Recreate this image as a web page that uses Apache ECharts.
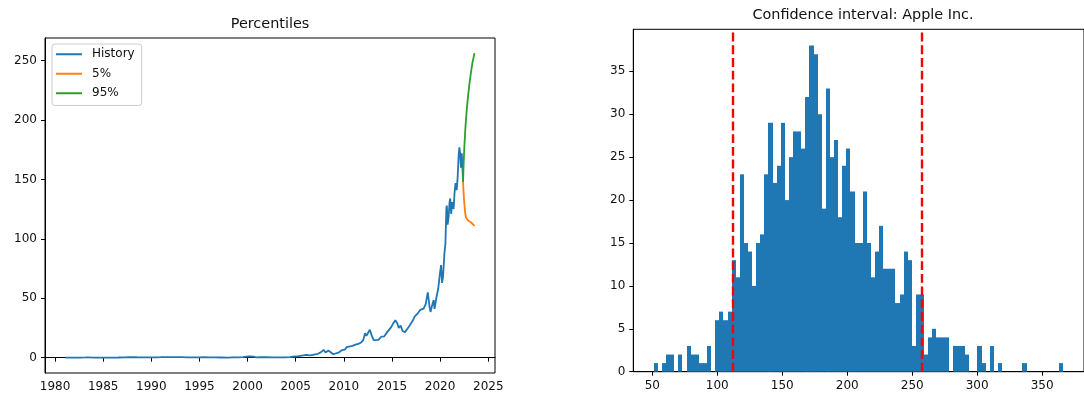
<!DOCTYPE html>
<html>
<head>
<meta charset="utf-8">
<script src="https://cdn.jsdelivr.net/npm/echarts@6/dist/echarts.min.js"></script>
<style>
  html, body { margin: 0; padding: 0; background: #fff; }
  #chart { width: 1084px; height: 394px; }
</style>
</head>
<body>
<div id="chart"></div>
<script>
// left panel: price history (decimal years) and forecast percentiles
const historyDates = [
  1981.08, 1981.5, 1982.0, 1982.6, 1983.2, 1983.5, 1984.0, 1984.6, 1985.3, 1986.0,
  1986.6, 1987.2, 1987.7, 1987.9, 1988.5, 1989.2, 1989.9, 1990.5, 1991.0, 1991.4,
  1992.0, 1992.6, 1993.2, 1993.7, 1994.3, 1995.0, 1995.5, 1996.0, 1996.6, 1997.3,
  1997.9, 1998.5, 1999.0, 1999.5, 1999.9, 2000.2, 2000.6, 2000.9, 2001.4, 2002.0,
  2002.5, 2003.2, 2003.8, 2004.4, 2004.9, 2005.3, 2005.8, 2006.1, 2006.5, 2006.9,
  2007.3, 2007.6, 2007.9, 2008.1, 2008.4, 2008.6, 2008.9, 2009.1, 2009.5, 2009.8,
  2010.1, 2010.3, 2010.5, 2010.9, 2011.2, 2011.5, 2011.8, 2012.0, 2012.2, 2012.35,
  2012.7, 2012.9, 2013.1, 2013.3, 2013.6, 2013.9, 2014.2, 2014.5, 2014.9, 2015.1,
  2015.35, 2015.55, 2015.7, 2015.9, 2016.1, 2016.35, 2016.5, 2016.75, 2016.95, 2017.15,
  2017.35, 2017.5, 2017.7, 2017.9, 2018.1, 2018.3, 2018.5, 2018.72, 2018.9, 2019.0,
  2019.2, 2019.33, 2019.42, 2019.6, 2019.8, 2020.0, 2020.1, 2020.2, 2020.3, 2020.45,
  2020.55, 2020.65, 2020.7, 2020.78, 2020.88, 2020.98, 2021.05, 2021.15, 2021.25, 2021.4,
  2021.5, 2021.6, 2021.72, 2021.82, 2021.92, 2022.0, 2022.08, 2022.16, 2022.25, 2022.3,
  2022.38
];
const historyPrices = [
  0.12, 0.10, 0.08, 0.09, 0.20, 0.26, 0.11, 0.10, 0.09, 0.11,
  0.15, 0.28, 0.45, 0.30, 0.35, 0.32, 0.28, 0.30, 0.40, 0.50,
  0.52, 0.40, 0.45, 0.22, 0.25, 0.30, 0.38, 0.25, 0.18, 0.15,
  0.12, 0.30, 0.33, 0.45, 0.80, 1.05, 0.90, 0.25, 0.35, 0.38,
  0.25, 0.22, 0.32, 0.45, 1.00, 1.30, 1.90, 2.40, 1.90, 2.60,
  3.30, 4.50, 6.60, 4.30, 6.00, 5.20, 2.90, 3.00, 4.50, 6.30,
  6.80, 8.90, 8.20, 10.0, 11.0, 11.6, 12.8, 14.5, 20.5, 18.5,
  23.5, 18.5, 14.8, 13.5, 15.0, 17.8, 18.0, 21.5, 25.5, 28.5,
  31.5, 29.0, 25.0, 27.0, 22.5, 21.5, 22.5, 26.0, 26.5, 31.0,
  34.5, 33.5, 37.5, 40.0, 38.5, 41.5, 45.0, 55.0, 43.0, 38.5,
  45.0, 48.5, 41.0, 50.0, 58.0, 72.0, 78.0, 63.0, 68.0, 88.0,
  96.0, 126.0, 128.0, 112.0, 118.0, 131.0, 134.0, 121.0, 131.0, 125.0,
  139.0, 147.0, 141.0, 152.0, 170.0, 177.0, 172.0, 160.0, 172.0, 163.0,
  148.0
];
const forecastDates = [2022.38, 2022.45, 2022.52, 2022.6, 2022.68, 2022.78, 2022.9, 2023.05, 2023.2, 2023.35, 2023.57];
const p5Path = [148, 137, 129, 122, 118, 117, 115.5, 116.5, 114, 113, 111];
const p95Path = [148, 165, 178, 190, 200, 210, 220, 231, 240, 248, 256.4];

// right panel: histogram of simulated end prices (100 bins)
const histMin = 51.1;
const binWidth = 3.153;
const histCounts = [
  1, 0, 1, 2, 2, 0, 2, 0, 3, 2,
  2, 1, 1, 3, 0, 6, 7, 6, 7, 13,
  11, 23, 15, 14, 10, 15, 16, 23, 29, 22,
  24, 29, 20, 25, 28, 28, 26, 32, 38, 37,
  30, 19, 33, 25, 27, 18, 24, 26, 21, 15,
  15, 21, 15, 11, 14, 17, 12, 12, 12, 8,
  9, 14, 13, 3, 9, 9, 2, 4, 5, 4,
  4, 4, 0, 3, 3, 3, 2, 0, 0, 3,
  1, 0, 3, 0, 1, 0, 0, 0, 0, 0,
  1, 0, 0, 0, 0, 0, 0, 0, 0, 1
];
const p5Cut = 111.6;
const p95Cut = 257.7;

// tick labels
const leftXTicks = [1980, 1985, 1990, 1995, 2000, 2005, 2010, 2015, 2020, 2025];
const leftYTicks = [0, 50, 100, 150, 200, 250];
const rightXTicks = [50, 100, 150, 200, 250, 300, 350];
const rightYTicks = [0, 5, 10, 15, 20, 25, 30, 35];

const FONT = "DejaVu Sans";
const BLUE = "#1f77b4", ORANGE = "#ff7f0e", GREEN = "#2ca02c";

const zip = (xs, ys) => xs.map((x, i) => [x, ys[i]]);
const bins = histCounts.map((c, i) => [histMin + i * binWidth, histMin + (i + 1) * binWidth, c]);

function valueAxis(gridIndex, min, max, ticks) {
  return {
    type: "value",
    gridIndex,
    min,
    max,
    axisLine: { show: true, lineStyle: { color: "#000", width: 1 } },
    axisTick: { show: true, length: 4, customValues: ticks, lineStyle: { color: "#000", width: 1 } },
    axisLabel: {
      customValues: ticks,
      formatter: (v) => String(v),
      color: "#111", fontFamily: FONT, fontSize: 12, margin: 8,
    },
    splitLine: { show: false },
  };
}

const chart = echarts.init(document.getElementById("chart"), null, { renderer: "canvas" });

chart.setOption({
  animation: false,
  backgroundColor: "#fff",
  title: [
    { text: "Percentiles", left: 270, top: 17, textAlign: "center", padding: 0,
      textStyle: { fontFamily: FONT, fontSize: 14.4, fontWeight: "normal", color: "#111" } },
    { text: "Confidence interval: Apple Inc.", left: 863, top: 8, textAlign: "center", padding: 0,
      textStyle: { fontFamily: FONT, fontSize: 14.4, fontWeight: "normal", color: "#111" } },
  ],
  legend: {
    data: [
      { name: "History", icon: "rect" },
      { name: "5%", icon: "rect" },
      { name: "95%", icon: "rect" },
    ],
    orient: "vertical",
    left: 52,
    top: 44,
    itemWidth: 26,
    itemHeight: 2,
    itemGap: 5,
    padding: [3, 7, 5, 4],
    borderColor: "#cccccc",
    borderWidth: 1,
    borderRadius: 3,
    backgroundColor: "rgba(255,255,255,0.8)",
    textStyle: { fontFamily: FONT, fontSize: 12, color: "#111", lineHeight: 14.5, padding: [0, 0, 0, 5] },
  },
  grid: [
    { left: 45, top: 38, width: 450, height: 335, show: true, borderColor: "#000", borderWidth: 1, backgroundColor: "transparent" },
    { left: 633.3, top: 29.3, width: 459.3, height: 342.4, show: true, borderColor: "#000", borderWidth: 1, backgroundColor: "transparent" },
  ],
  xAxis: [
    valueAxis(0, 1978.96, 2025.7, leftXTicks),
    valueAxis(1, 35.35, 382.2, rightXTicks),
  ],
  yAxis: [
    valueAxis(0, -12.9, 269.1, leftYTicks),
    valueAxis(1, 0, 39.9, rightYTicks),
  ],
  series: [
    {
      name: "History", type: "line", xAxisIndex: 0, yAxisIndex: 0,
      data: zip(historyDates, historyPrices),
      showSymbol: false, color: BLUE, lineStyle: { width: 1.8, color: BLUE },
    },
    {
      name: "5%", type: "line", xAxisIndex: 0, yAxisIndex: 0,
      data: zip(forecastDates, p5Path),
      showSymbol: false, color: ORANGE, lineStyle: { width: 1.8, color: ORANGE },
    },
    {
      name: "95%", type: "line", xAxisIndex: 0, yAxisIndex: 0,
      data: zip(forecastDates, p95Path),
      showSymbol: false, color: GREEN, lineStyle: { width: 1.8, color: GREEN },
    },
    {
      name: "hist", type: "custom", xAxisIndex: 1, yAxisIndex: 1,
      data: bins,
      encode: { x: [0, 1], y: 2 },
      renderItem: (params, api) => {
        if (!api.value(2)) return;
        const p0 = api.coord([api.value(0), api.value(2)]);
        const p1 = api.coord([api.value(1), 0]);
        // snap bin edges to whole pixels so neighbouring bars merge without seams
        const x0 = Math.round(p0[0]);
        const x1 = Math.round(p1[0]);
        return {
          type: "rect",
          shape: { x: x0, y: p0[1], width: x1 - x0, height: p1[1] - p0[1] },
          style: { fill: BLUE },
        };
      },
      markLine: {
        silent: true,
        symbol: "none",
        label: { show: false },
        lineStyle: { color: "#ff0000", width: 2.4, type: [8.9, 3.8] },
        data: [{ xAxis: p5Cut }, { xAxis: p95Cut }],
      },
    },
  ],
});
</script>
</body>
</html>
